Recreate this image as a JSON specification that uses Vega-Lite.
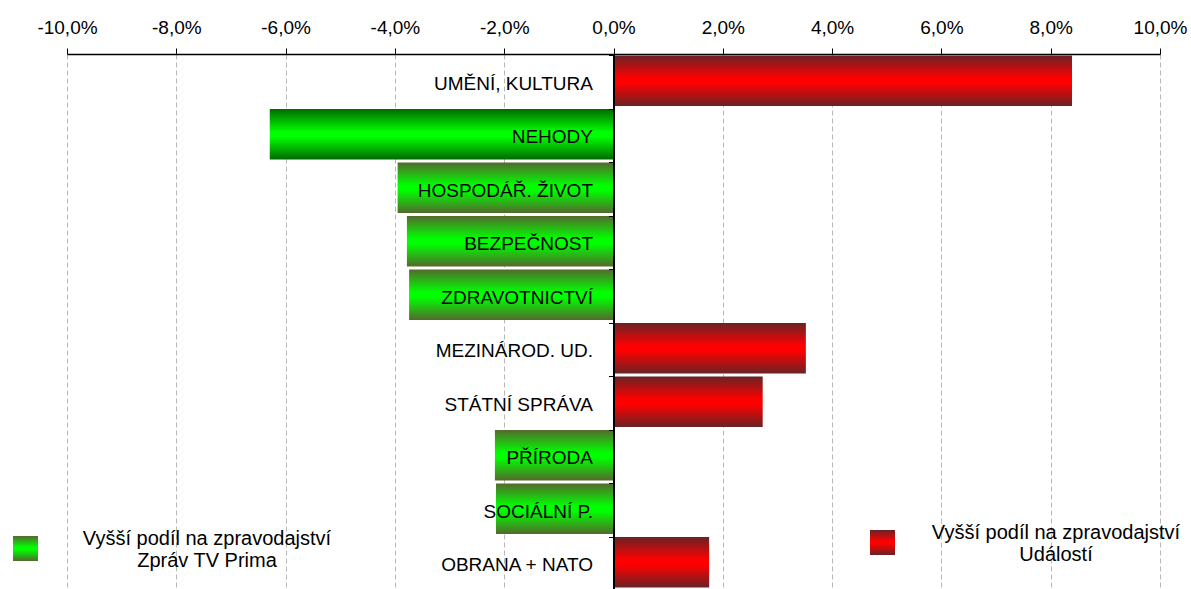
{
  "$schema": "https://vega.github.io/schema/vega-lite/v6.json",
  "width": 1093,
  "height": 535,
  "autosize": {"type": "none"},
  "padding": {"left": 67, "top": 54, "right": 31, "bottom": 0},
  "config": {
    "font": "Liberation Sans",
    "view": {"stroke": null},
    "locale": {"number": {"decimal": ",", "thousands": " ", "grouping": [3], "currency": ["", " Kč"], "minus": "-"}}
  },
  "data": {
    "values": [
      {"kategorie": "UMĚNÍ, KULTURA", "rozdil": 0.0839, "serie": "Událostí"},
      {"kategorie": "NEHODY", "rozdil": -0.0629, "serie": "Zpráv TV Prima"},
      {"kategorie": "HOSPODÁŘ. ŽIVOT", "rozdil": -0.0395, "serie": "Zpráv TV Prima"},
      {"kategorie": "BEZPEČNOST", "rozdil": -0.0378, "serie": "Zpráv TV Prima"},
      {"kategorie": "ZDRAVOTNICTVÍ", "rozdil": -0.0374, "serie": "Zpráv TV Prima"},
      {"kategorie": "MEZINÁROD. UD.", "rozdil": 0.0352, "serie": "Událostí"},
      {"kategorie": "STÁTNÍ  SPRÁVA", "rozdil": 0.0273, "serie": "Událostí"},
      {"kategorie": "PŘÍRODA", "rozdil": -0.0217, "serie": "Zpráv TV Prima"},
      {"kategorie": "SOCIÁLNÍ  P.", "rozdil": -0.0215, "serie": "Zpráv TV Prima"},
      {"kategorie": "OBRANA + NATO", "rozdil": 0.0175, "serie": "Událostí"}
    ]
  },
  "encoding": {
    "y": {
      "field": "kategorie",
      "type": "nominal",
      "sort": null,
      "scale": {
        "domain": ["UMĚNÍ, KULTURA", "NEHODY", "HOSPODÁŘ. ŽIVOT", "BEZPEČNOST", "ZDRAVOTNICTVÍ", "MEZINÁROD. UD.", "STÁTNÍ  SPRÁVA", "PŘÍRODA", "SOCIÁLNÍ  P.", "OBRANA + NATO"],
        "paddingInner": 0.06,
        "paddingOuter": 0.03
      },
      "axis": {
        "title": null,
        "orient": "left",
        "offset": -546.5,
        "zindex": 1,
        "grid": false,
        "domainColor": "black",
        "domainWidth": 2,
        "tickColor": "black",
        "tickSize": 5,
        "bandPosition": 0,
        "labelOffset": 3,
        "labelFontSize": 19,
        "labelColor": "black",
        "labelPadding": 16,
        "labelLimit": 400
      }
    },
    "x": {
      "field": "rozdil",
      "type": "quantitative",
      "scale": {"domain": [-0.1, 0.1], "nice": false},
      "axis": {
        "title": null,
        "orient": "top",
        "format": ".1%",
        "values": [-0.1, -0.08, -0.06, -0.04, -0.02, 0, 0.02, 0.04, 0.06, 0.08, 0.1],
        "labelFlush": false,
        "labelOverlap": false,
        "labelFontSize": 19,
        "labelColor": "black",
        "labelPadding": 11,
        "domainColor": "black",
        "domainWidth": 1.5,
        "tickColor": "black",
        "tickSize": 6,
        "grid": true,
        "gridColor": "#b8b8b8",
        "gridDash": [5, 3],
        "gridWidth": 1
      }
    }
  },
  "layer": [
    {
      "transform": [{"filter": "datum.rozdil < 0 && datum.kategorie != 'NEHODY'"}],
      "mark": {
        "type": "bar",
        "fill": {"gradient": "linear", "x1": 0, "y1": 0, "x2": 0, "y2": 1, "stops": [
          {"offset": 0, "color": "#526a2c"},
          {"offset": 0.45, "color": "#00ff00"},
          {"offset": 0.55, "color": "#00ff00"},
          {"offset": 1, "color": "#526a2c"}
        ]}
      },
      "encoding": {
        "opacity": {
          "field": "serie",
          "type": "nominal",
          "scale": {"range": [1]},
          "legend": {
            "title": null,
            "orient": "none",
            "legendX": -55,
            "legendY": 481,
            "padding": 0,
            "symbolType": "square",
            "symbolSize": 625,
            "symbolStrokeColor": "black",
            "symbolStrokeWidth": 1.5,
            "labelExpr": "['Vyšší podíl na zpravodajství', datum.label]",
            "labelAlign": "center",
            "labelBaseline": "bottom",
            "labelOffset": 168,
            "labelFontSize": 20,
            "labelColor": "black",
            "labelLimit": 500,
            "encode": {
              "symbols": {"update": {
                "fill": {"value": {"gradient": "linear", "x1": 0, "y1": 0, "x2": 0, "y2": 1, "stops": [
                  {"offset": 0, "color": "#008000"},
                  {"offset": 0.5, "color": "#00ff00"},
                  {"offset": 1, "color": "#008000"}
                ]}},
                "opacity": {"value": 1},
                "stroke": {"value": "black"},
                "strokeWidth": {"value": 1.5}
              }}
            }
          }
        }
      }
    },
    {
      "transform": [{"filter": "datum.kategorie == 'NEHODY'"}],
      "mark": {
        "type": "bar",
        "fill": {"gradient": "linear", "x1": 0, "y1": 0, "x2": 0, "y2": 1, "stops": [
          {"offset": 0, "color": "#006a00"},
          {"offset": 0.45, "color": "#00ff00"},
          {"offset": 0.55, "color": "#00ff00"},
          {"offset": 1, "color": "#006a00"}
        ]}
      }
    },
    {
      "transform": [{"filter": "datum.rozdil >= 0"}],
      "mark": {
        "type": "bar",
        "fill": {"gradient": "linear", "x1": 0, "y1": 0, "x2": 0, "y2": 1, "stops": [
          {"offset": 0, "color": "#6a2224"},
          {"offset": 0.45, "color": "#ff0000"},
          {"offset": 0.55, "color": "#ff0000"},
          {"offset": 1, "color": "#6a2224"}
        ]}
      },
      "encoding": {
        "opacity": {
          "field": "serie",
          "type": "nominal",
          "scale": {"range": [1]},
          "legend": {
            "title": null,
            "orient": "none",
            "legendX": 802,
            "legendY": 475,
            "padding": 0,
            "symbolType": "square",
            "symbolSize": 625,
            "symbolStrokeColor": "black",
            "symbolStrokeWidth": 1.5,
            "labelExpr": "['Vyšší podíl na zpravodajství', datum.label]",
            "labelAlign": "center",
            "labelBaseline": "bottom",
            "labelOffset": 160,
            "labelFontSize": 20,
            "labelColor": "black",
            "labelLimit": 500,
            "encode": {
              "symbols": {"update": {
                "fill": {"value": {"gradient": "linear", "x1": 0, "y1": 0, "x2": 0, "y2": 1, "stops": [
                  {"offset": 0, "color": "#600000"},
                  {"offset": 0.5, "color": "#ff0000"},
                  {"offset": 1, "color": "#600000"}
                ]}},
                "opacity": {"value": 1},
                "stroke": {"value": "black"},
                "strokeWidth": {"value": 1.5}
              }}
            }
          }
        }
      }
    }
  ],
  "resolve": {"scale": {"opacity": "independent"}, "legend": {"opacity": "independent"}}
}
